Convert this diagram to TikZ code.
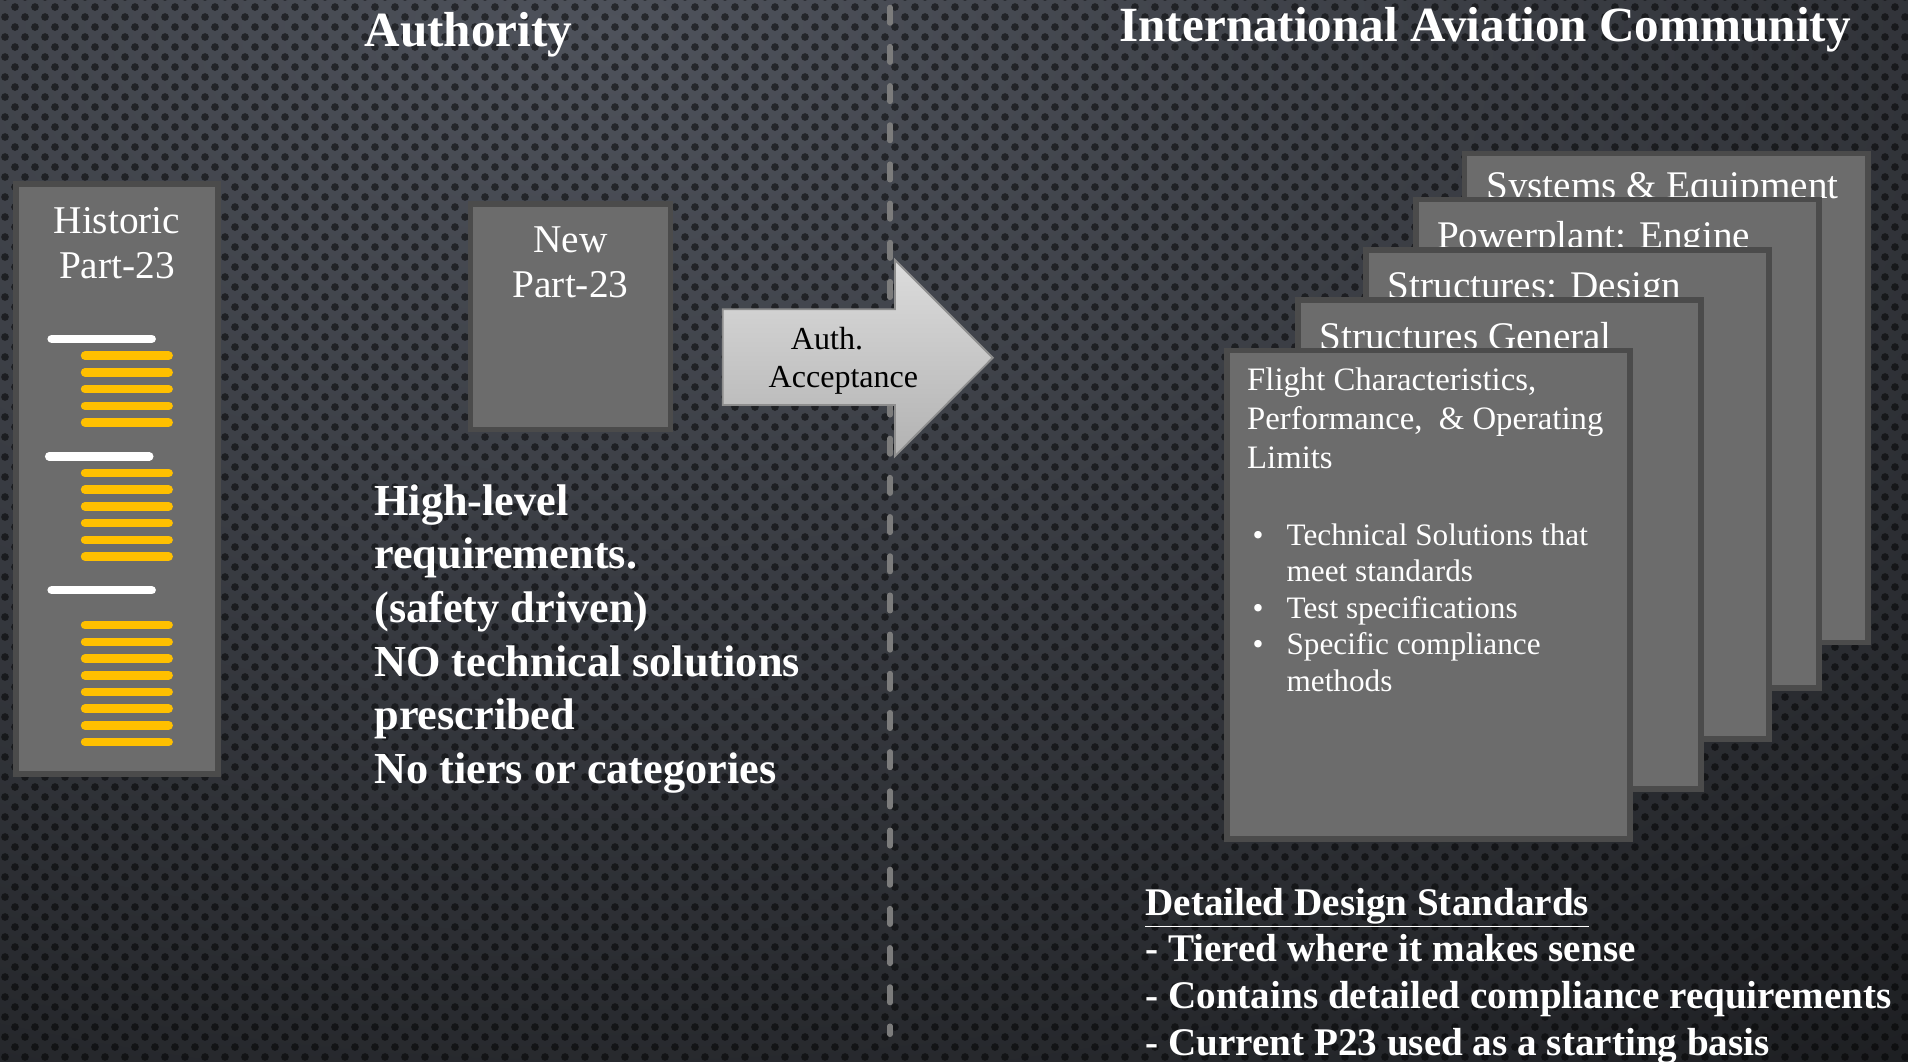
\documentclass[tikz,border=0pt]{standalone}
\usepackage{fontspec}
\setmainfont{Liberation Serif}
\usetikzlibrary{patterns}

\definecolor{bginner}{HTML}{4E525B}
\definecolor{bgouter}{HTML}{131416}
\definecolor{panelgray}{HTML}{6C6C6C}
\definecolor{panelline}{HTML}{4B4B4B}
\definecolor{baryellow}{HTML}{FFC000}
\definecolor{dashgray}{HTML}{7C7C7C}
\definecolor{arrowtop}{HTML}{DCDCDC}
\definecolor{arrowbottom}{HTML}{B2B2B2}
\definecolor{arrowline}{HTML}{8E8E8E}

\pgfdeclarepatternformonly{meshdots}{\pgfqpoint{0pt}{0pt}}{\pgfqpoint{9.35pt}{9.35pt}}{\pgfqpoint{9.35pt}{9.35pt}}{
\pgfpathcircle{\pgfqpoint{2.34pt}{2.34pt}}{1.8pt}
\pgfpathcircle{\pgfqpoint{7.01pt}{7.01pt}}{1.8pt}
\pgfusepath{fill}
}

\begin{document}
\begin{tikzpicture}[
panel/.style = {draw = panelline, fill = panelgray, line width = 0.094cm, inner sep = 0},
card/.style = {panel, minimum width = 6.63cm, minimum height = 8.035cm},
heading/.style = {white, anchor = base, inner sep = 0, font = \fontsize{23}{28}\selectfont\bfseries},
boxtext/.style = {white, anchor = base, inner sep = 0, font = \fontsize{18.4}{21.1}\selectfont},
arrowtext/.style = {black, anchor = base, inner sep = 0, font = \fontsize{15}{18}\selectfont},
bodybold/.style = {white, anchor = base west, inner sep = 0, font = \fontsize{20.7}{25.1}\selectfont\bfseries},
cardtitle/.style = {white, anchor = base west, inner sep = 0, font = \fontsize{18.3}{21.6}\selectfont},
cardtext/.style = {white, anchor = base west, inner sep = 0, font = \fontsize{15.3}{18.2}\selectfont},
bullettext/.style = {white, anchor = base west, inner sep = 0, font = \fontsize{14.6}{17.1}\selectfont},
bottombold/.style = {white, anchor = base west, inner sep = 0, font = \fontsize{18.3}{21.9}\selectfont\bfseries},
whitebar/.style = {white, line width = 0.14cm, line cap = round},
yellowbar/.style = {baryellow, line width = 0.14cm, line cap = round},
divider/.style = {dashgray, line width = 0.088cm, line cap = round, dash pattern = on 0.257cm off 0.387cm}
]
\useasboundingbox (0, 0) rectangle (31.36, 17.44);
\begin{scope}
\clip (0, 0) rectangle (31.36, 17.44);
\shade[inner color = bginner, outer color = bgouter] (10, 17) ellipse (44 and 26);
\fill[pattern = meshdots, pattern color = black, opacity = 0.5] (0, 0) rectangle (31.36, 17.44);
\end{scope}

\coordinate (divtop) at (14.629, 17.318);
\coordinate (divbottom) at (14.629, 0.44);
\draw[divider] (divtop) -- (divbottom);

\node[heading] (authority) at (7.698, 16.67) {Authority};
\node[heading] (community) at (24.41, 16.75) {International Aviation Community};

\node[panel, minimum width = 3.315cm, minimum height = 9.698cm] (historic) at (1.923, 9.569) {};
\node[boxtext] (historiclabel) at (1.923, 13.605) {\begin{tabular}[t]{@{}c@{}}Historic\\Part-23\end{tabular}};
\draw[whitebar] (0.849, 11.87) -- (2.493, 11.87);
\draw[yellowbar] (1.398, 11.593) -- (2.772, 11.593);
\draw[yellowbar] (1.398, 11.319) -- (2.772, 11.319);
\draw[yellowbar] (1.398, 11.044) -- (2.772, 11.044);
\draw[yellowbar] (1.398, 10.770) -- (2.772, 10.770);
\draw[yellowbar] (1.398, 10.495) -- (2.772, 10.495);
\draw[whitebar] (0.809, 9.94) -- (2.453, 9.94);
\draw[yellowbar] (1.398, 9.666) -- (2.772, 9.666);
\draw[yellowbar] (1.398, 9.391) -- (2.772, 9.391);
\draw[yellowbar] (1.398, 9.117) -- (2.772, 9.117);
\draw[yellowbar] (1.398, 8.842) -- (2.772, 8.842);
\draw[yellowbar] (1.398, 8.568) -- (2.772, 8.568);
\draw[yellowbar] (1.398, 8.293) -- (2.772, 8.293);
\draw[whitebar] (0.849, 7.74) -- (2.493, 7.74);
\draw[yellowbar] (1.398, 7.165) -- (2.772, 7.165);
\draw[yellowbar] (1.398, 6.890) -- (2.772, 6.890);
\draw[yellowbar] (1.398, 6.616) -- (2.772, 6.616);
\draw[yellowbar] (1.398, 6.341) -- (2.772, 6.341);
\draw[yellowbar] (1.398, 6.067) -- (2.772, 6.067);
\draw[yellowbar] (1.398, 5.792) -- (2.772, 5.792);
\draw[yellowbar] (1.398, 5.518) -- (2.772, 5.518);
\draw[yellowbar] (1.398, 5.244) -- (2.772, 5.244);

\node[panel, minimum width = 3.285cm, minimum height = 3.708cm] (newpart) at (9.377, 12.235) {};
\node[boxtext] (newlabel) at (9.377, 13.286) {\begin{tabular}[t]{@{}c@{}}New\\Part-23\end{tabular}};

\shade[top color = arrowtop, bottom color = arrowbottom, draw = arrowline, line width = 0.03cm] (11.879, 12.356) -- (14.711, 12.356) -- (14.711, 13.166) -- (16.317, 11.56) -- (14.711, 9.944) -- (14.711, 10.783) -- (11.879, 10.783) -- cycle;
\node[arrowtext] (accept) at (13.862, 11.701) {\begin{tabular}[t]{@{}c@{}}Auth.\hspace*{0.54cm}\\Acceptance\end{tabular}};

\node[bodybold] (highlevel) at (6.147, 8.975) {\begin{tabular}[t]{@{}l@{}}High-level\\requirements.\\(safety driven)\\NO technical solutions\\prescribed\\No tiers or categories\end{tabular}};

\node[card] (cardsys) at (27.384, 10.898) {};
\node[cardtitle] (titlesys) at (24.421, 14.177) {Systems \& Equipment};
\node[card] (cardpower) at (26.583, 10.145) {};
\node[cardtitle] (titlepower) at (23.615, 13.355) {Powerplant: Engine};
\node[card] (carddesign) at (25.761, 9.315) {};
\node[cardtitle] (titledesign) at (22.803, 12.533) {Structures: Design};
\node[card] (cardgeneral) at (24.647, 8.493) {};
\node[cardtitle] (titlegeneral) at (21.681, 11.695) {Structures General};
\node[card] (cardflight) at (23.477, 7.663) {};
\node[cardtext] (titleflight) at (20.492, 11.018) {\begin{tabular}[t]{@{}l@{}}Flight Characteristics,\\Performance,\ \ \& Operating\\Limits\end{tabular}};
\node[bullettext] (flightlist) at (20.58, 8.48) {\begin{tabular}[t]{@{}l@{}l@{}}\makebox[0.56cm][l]{\textbullet} & Technical Solutions that\\ & meet standards\\ \textbullet & Test specifications\\ \textbullet & Specific compliance\\ & methods\end{tabular}};

\node[bottombold] (standards) at (18.82, 2.40) {\begin{tabular}[t]{@{}l@{}}\underline{Detailed Design Standards}\\- Tiered where it makes sense\\- Contains detailed compliance requirements\\- Current P23 used as a starting basis\end{tabular}};
\end{tikzpicture}
\end{document}
